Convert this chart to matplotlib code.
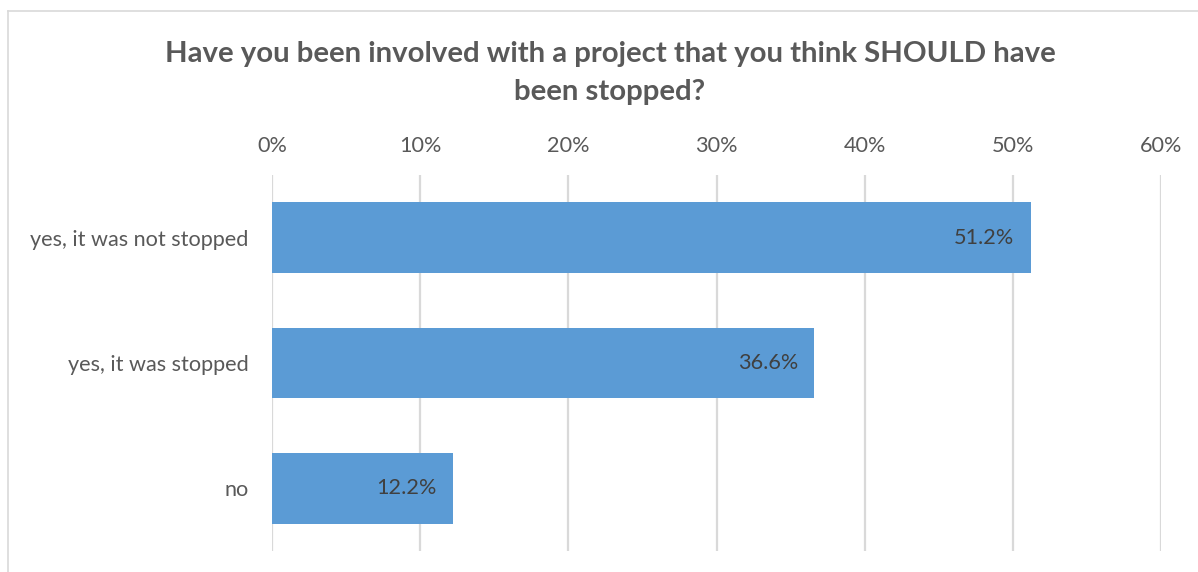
import matplotlib.pyplot as plt
import matplotlib.ticker as mtick

categories = ["yes, it was not stopped", "yes, it was stopped", "no"]
values = [51.2, 36.6, 12.2]
xticks = [0, 10, 20, 30, 40, 50, 60]

plt.rcParams['font.family'] = ['Lato', 'DejaVu Sans']

fig = plt.figure(figsize=(11.98, 5.72), dpi=100)
ax = fig.add_axes([272 / 1198, 1 - 551 / 572, (1161 - 272) / 1198, 376 / 572])

ypos = range(len(categories))
ax.barh(ypos, values, height=0.566, color="#5B9BD5", zorder=3)
ax.set_ylim(len(categories) - 0.5, -0.5)
ax.set_yticks(list(ypos))
ax.set_yticklabels(categories)
ax.set_xlim(0, 60)
ax.set_xticks(xticks)
ax.xaxis.set_major_formatter(mtick.FuncFormatter(lambda v, p: f"{v:.0f}%"))
ax.xaxis.tick_top()
ax.grid(axis="x", color="#D9D9D9", linewidth=1.6, zorder=0)
for s in ax.spines.values():
    s.set_visible(False)
ax.tick_params(length=0, labelsize=15.6, colors="#595959")
ax.tick_params(axis="x", pad=14)
ax.tick_params(axis="y", pad=17)

for y, v in zip(ypos, values):
    ax.text(v - 1.1, y, f"{v:.1f}%", ha="right", va="center",
            fontsize=15.6, color="#404040", zorder=4)

fig.text(610 / 1198, 1 - 73 / 572, "Have you been involved with a project that you think SHOULD have\nbeen stopped?",
         ha="center", va="center", fontsize=21.2, fontweight="bold", color="#595959",
         linespacing=1.55)

# chart border (top and left visible)
fig.add_artist(plt.Line2D([8 / 1198, 1], [1 - 11 / 572, 1 - 11 / 572], color="#D9D9D9", lw=1.2))
fig.add_artist(plt.Line2D([8 / 1198, 8 / 1198], [0, 1 - 11 / 572], color="#D9D9D9", lw=1.2))

fig.savefig("out.png", dpi=100)
